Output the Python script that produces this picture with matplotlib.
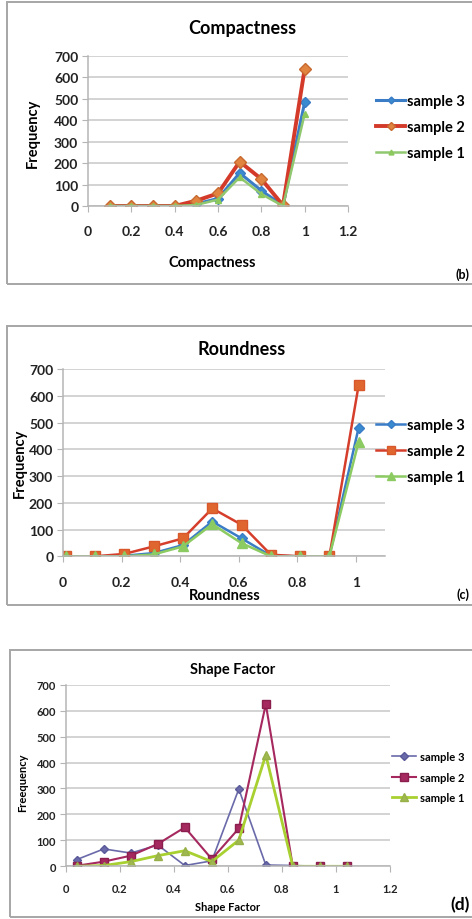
import matplotlib.pyplot as plt
from matplotlib.patches import Rectangle

plt.rcParams['font.family'] = ['Lato', 'DejaVu Sans']
plt.rcParams['font.weight'] = 'bold'

# (b) Compactness
comp_x = [0.1, 0.2, 0.3, 0.4, 0.5, 0.6, 0.7, 0.8, 0.9, 1.0]
comp_s3 = [0, 0, 0, 0, 10, 35, 154, 72, 2, 484]
comp_s2 = [0, 0, 0, 0, 25, 59, 207, 126, 3, 640]
comp_s1 = [0, 0, 0, 0, 5, 30, 134, 56, 0, 430]

# (c) Roundness
round_x = [0.01, 0.11, 0.21, 0.31, 0.41, 0.51, 0.61, 0.71, 0.81, 0.91, 1.01]
round_s3 = [0, 0, 2, 12, 42, 130, 67, 2, 0, 0, 481]
round_s2 = [0, 0, 9, 37, 67, 179, 118, 6, 0, 0, 640]
round_s1 = [0, 0, 0, 7, 37, 120, 49, 0, 0, 0, 428]

# (d) Shape factor
shape_x = [0.04, 0.14, 0.24, 0.34, 0.44, 0.54, 0.64, 0.74, 0.84, 0.94, 1.04]
shape_s3 = [26, 67, 51, 82, 3, 21, 298, 5, 3, 0, 0]
shape_s2 = [2, 18, 41, 86, 150, 28, 146, 625, 0, 0, 0]
shape_s1 = [0, 3, 18, 41, 60, 18, 101, 429, 0, 0, 0]

labels = ['sample 3', 'sample 2', 'sample 1']
W, H = 472, 920

fig = plt.figure(figsize=(W / 100, H / 100), dpi=100)


def px_axes(left, right, top, bottom):
    return fig.add_axes([left / W, 1 - bottom / H, (right - left) / W, (bottom - top) / H])


def frame(left, top, bottom):
    fig.add_artist(Rectangle((left / W, 1 - bottom / H), (W + 10 - left) / W, (bottom - top) / H,
                             transform=fig.transFigure, fill=False, ec='#a6a6a6', lw=1.4))


def style(ax, xmax, xticks, xticklabels, fs, pad_x):
    ax.set_ylim(0, 700)
    ax.set_yticks(range(0, 701, 100))
    ax.set_xlim(0, xmax)
    ax.set_xticks(xticks)
    ax.set_xticklabels(xticklabels)
    ax.grid(axis='y', color='#c8c8c8', lw=1.1)
    ax.set_axisbelow(True)
    for s in ['top', 'right']:
        ax.spines[s].set_visible(False)
    for s in ['left', 'bottom']:
        ax.spines[s].set_color('#b5b5b5')
        ax.spines[s].set_linewidth(1.1)
    ax.tick_params(axis='both', direction='out', length=4, color='#b5b5b5', labelsize=fs,
                   labelcolor='#222222')
    ax.tick_params(axis='x', pad=pad_x)
    ax.tick_params(axis='y', pad=3)
    for t in ax.get_xticklabels() + ax.get_yticklabels():
        t.set_fontweight('bold')


# ---- Compactness ----
frame(7, 3, 285)
ax1 = px_axes(88, 348, 57, 207)
l3, = ax1.plot(comp_x, comp_s3, color='#3a7cc6', lw=2.2, marker='D', ms=5, mfc='#3a8ad0', mec='#3a7cc6')
l2, = ax1.plot(comp_x, comp_s2, color='#d43a2a', lw=2.8, marker='D', ms=6.5, mfc='#e08440', mec='#c86a30')
l1, = ax1.plot(comp_x, comp_s1, color='#90c870', lw=1.8, marker='^', ms=5, mfc='#8cc85c', mec='#8cc85c')
style(ax1, 1.2, [0, 0.2, 0.4, 0.6, 0.8, 1.0, 1.2], ['0', '0.2', '0.4', '0.6', '0.8', '1', '1.2'], 10, 10)
ax1.text(0.592, 1.193, 'Compactness', transform=ax1.transAxes, ha='center', va='center',
         fontsize=13, fontweight='bold')
ax1.set_xlabel('Compactness', fontsize=10.5, va='center', fontweight='bold')
ax1.xaxis.set_label_coords(0.477, -0.373)
ax1.set_ylabel('Frequency', fontsize=10.5, va='center', fontweight='bold')
ax1.yaxis.set_label_coords(-0.212, 0.493)
ax1.legend([l3, l2, l1], labels, loc='center left', bbox_to_anchor=(376 / W, 1 - 128 / H),
           bbox_transform=fig.transFigure, frameon=False, fontsize=10.5, handlelength=2.0,
           handletextpad=0.1, labelspacing=0.8, borderpad=0, borderaxespad=0, markerscale=0.7,
           prop={'weight': 'bold', 'size': 10.5})
fig.text(463 / W, 1 - 275 / H, '(b)', ha='center', va='center', fontsize=9, fontweight='bold')

# ---- Roundness ----
frame(7, 327, 606)
ax2 = px_axes(63, 385, 370, 557.3)
l3, = ax2.plot(round_x, round_s3, color='#3a7cc6', lw=1.8, marker='D', ms=5, mfc='#3a8ad0', mec='#3a7cc6')
l2, = ax2.plot(round_x, round_s2, color='#d63e2c', lw=1.8, marker='s', ms=7, mfc='#e0662f', mec='#d8582c')
l1, = ax2.plot(round_x, round_s1, color='#8ccb62', lw=1.8, marker='^', ms=6.5, mfc='#8ccb62', mec='#8ccb62')
style(ax2, 1.1, [0, 0.2, 0.4, 0.6, 0.8, 1.0], ['0', '0.2', '0.4', '0.6', '0.8', '1'], 10, 10)
ax2.text(0.556, 1.107, 'Roundness', transform=ax2.transAxes, ha='center', va='center',
         fontsize=13, fontweight='bold')
ax2.set_xlabel('Roundness', fontsize=10.5, va='center', fontweight='bold')
ax2.xaxis.set_label_coords(0.503, -0.207)
ax2.set_ylabel('Frequency', fontsize=10.5, va='center', fontweight='bold')
ax2.yaxis.set_label_coords(-0.134, 0.503)
ax2.legend([l3, l2, l1], labels, loc='center left', bbox_to_anchor=(376 / W, 1 - 452 / H),
           bbox_transform=fig.transFigure, frameon=False, handlelength=2.0,
           handletextpad=0.1, labelspacing=0.8, borderpad=0, borderaxespad=0, markerscale=0.85,
           prop={'weight': 'bold', 'size': 10.5})
fig.text(463 / W, 1 - 595 / H, '(c)', ha='center', va='center', fontsize=9, fontweight='bold')

# ---- Shape Factor ----
frame(10, 651, 918)
ax3 = px_axes(66, 390, 685.7, 867.3)
l3, = ax3.plot(shape_x, shape_s3, color='#6a6aaa', lw=1.2, marker='D', ms=4.5, mfc='#6a6aaa', mec='#5a5a9a')
l2, = ax3.plot(shape_x, shape_s2, color='#a5285e', lw=1.5, marker='s', ms=6, mfc='#a5285e', mec='#8a1f4e')
l1, = ax3.plot(shape_x, shape_s1, color='#a8d030', lw=2.0, marker='^', ms=6, mfc='#a0b850', mec='#98b048')
style(ax3, 1.2, [0, 0.2, 0.4, 0.6, 0.8, 1.0, 1.2], ['0', '0.2', '0.4', '0.6', '0.8', '1', '1.2'], 8, 8)
ax3.text(0.515, 1.086, 'Shape Factor', transform=ax3.transAxes, ha='center', va='center',
         fontsize=10.5, fontweight='bold')
ax3.set_xlabel('Shape Factor', fontsize=8, va='center', fontweight='bold')
ax3.xaxis.set_label_coords(0.5, -0.224)
ax3.set_ylabel('Freequency', fontsize=8, va='center', fontweight='bold')
ax3.yaxis.set_label_coords(-0.133, 0.464)
ax3.legend([l3, l2, l1], labels, loc='center left', bbox_to_anchor=(392 / W, 1 - 778 / H),
           bbox_transform=fig.transFigure, frameon=False, handlelength=2.2,
           handletextpad=0.3, labelspacing=0.85, borderpad=0, borderaxespad=0,
           prop={'weight': 'bold', 'size': 8})
fig.text(460 / W, 1 - 905 / H, '(d)', ha='center', va='center', fontsize=12.5, fontweight='bold')

fig.savefig('out.png', dpi=100)
